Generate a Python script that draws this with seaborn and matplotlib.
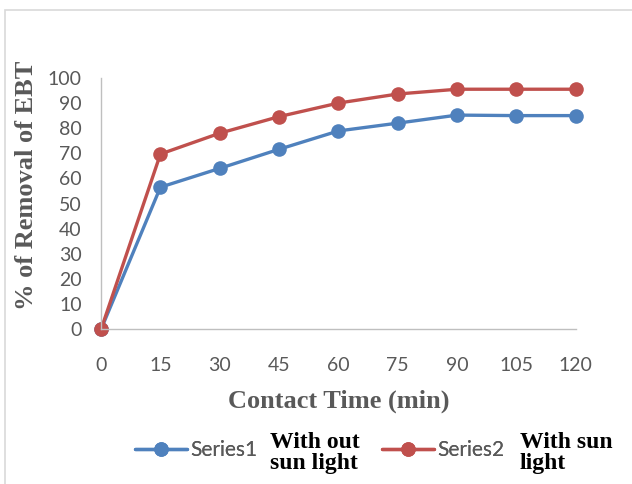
import seaborn as sns
import matplotlib.pyplot as plt
import pandas as pd
from matplotlib.patches import Rectangle

# Data
time_min = [0, 15, 30, 45, 60, 75, 90, 105, 120]
without_sun = [0, 56.5, 64, 71.6, 78.9, 82, 85.2, 85, 85]
with_sun = [0, 69.7, 78, 84.6, 90, 93.6, 95.5, 95.5, 95.5]
series_names = ['Series1', 'Series2']
series_notes = ['With out\nsun light', 'With sun\nlight']

df = pd.DataFrame({
    'Time': time_min * 2,
    'Removal': without_sun + with_sun,
    'Series': [series_names[0]] * len(time_min) + [series_names[1]] * len(time_min),
})

sns.set_style('white')
palette = {'Series1': '#4F81BD', 'Series2': '#C0504D'}

fig = plt.figure(figsize=(6.32, 4.84), dpi=100)
ax = fig.add_axes([0.160, 0.320, 0.751, 0.519])

sns.lineplot(data=df, x='Time', y='Removal', hue='Series', palette=palette,
             marker='o', markersize=10.5, markeredgewidth=0, linewidth=2.4,
             ax=ax, clip_on=False, legend=True)

ax.set_xlim(0, 120)
ax.set_ylim(0, 100)
ax.set_xticks(time_min)
ax.set_yticks(range(0, 101, 10))
ax.tick_params(axis='both', length=0, labelsize=14, labelcolor='#595959')
ax.tick_params(axis='x', pad=20)
ax.tick_params(axis='y', pad=14)
for lab in ax.get_xticklabels() + ax.get_yticklabels():
    lab.set_family('Lato')

for s in ['top', 'right']:
    ax.spines[s].set_visible(False)
for s in ['left', 'bottom']:
    ax.spines[s].set_color('#BFBFBF')
    ax.spines[s].set_linewidth(1)

ax.set_xlabel('Contact Time (min)', family='Liberation Serif', weight='bold',
              size=19, color='#595959', labelpad=11)
ax.set_ylabel('% of Removal of EBT', family='Liberation Serif', weight='bold',
              size=19, color='#595959')
ax.yaxis.set_label_coords(-0.132, 0.574)

handles, labels = ax.get_legend_handles_labels()
ax.legend_.remove()
leg_x = [135 / 632, 382 / 632]
for i, (h, l) in enumerate(zip(handles, labels)):
    leg = fig.legend([h], [l], loc='center left', bbox_to_anchor=(leg_x[i], 0.070),
                     frameon=False, handlelength=2.5, handletextpad=0.15,
                     borderpad=0, borderaxespad=0,
                     prop={'family': 'Lato', 'size': 15})
    for t in leg.get_texts():
        t.set_color('#595959')
    fig.add_artist(leg)

note_x = [270 / 632, 520 / 632]
for x, note in zip(note_x, series_notes):
    fig.text(x, 0.064, note, family='Liberation Serif', weight='bold', size=17,
             color='black', va='center', ha='left', linespacing=0.95)

# light chart border
fig.patches.append(Rectangle((5 / 632, -0.02), 1.1, 1 - 10 / 484 + 0.02,
                             transform=fig.transFigure, fill=False,
                             edgecolor='#D9D9D9', linewidth=1.2))

fig.savefig('out.png', dpi=100)
